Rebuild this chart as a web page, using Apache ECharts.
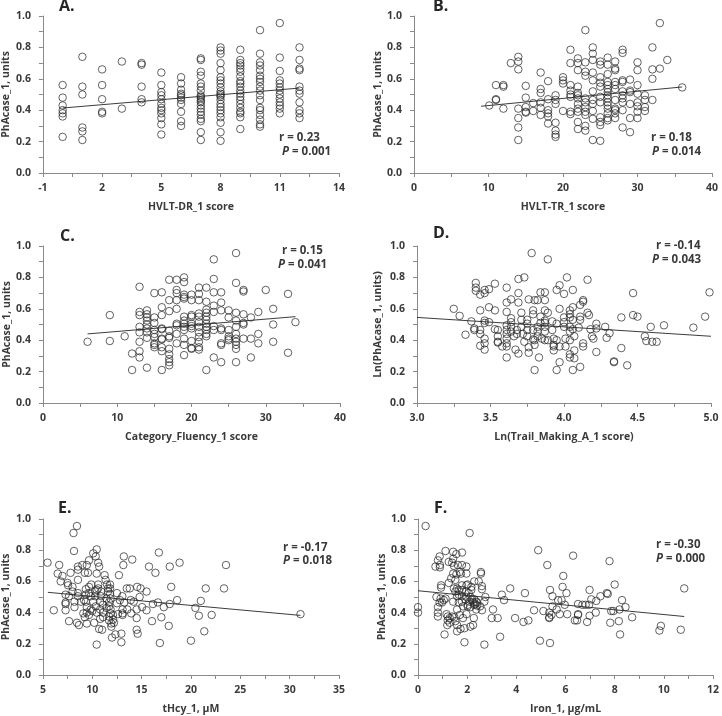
<!DOCTYPE html>
<html>
<head>
<meta charset="utf-8">
<script src="https://cdn.jsdelivr.net/npm/echarts@6/dist/echarts.min.js"></script>
<style>html,body{margin:0;padding:0;background:#fff}#chart{width:722px;height:716px}</style>
</head>
<body>
<div id="chart"></div>
<script>
// ---------- Panel A: HVLT-DR_1 score (grouped by integer score) ----------
const hvltDrScores = [0,1,2,3,4,5,6,7,8,9,10,11,12];
const hvltDrPhAcase = [
  [0.56,0.48,0.43,0.40,0.38,0.36,0.23],
  [0.74,0.55,0.50,0.29,0.265,0.21],
  [0.66,0.56,0.47,0.39,0.38],
  [0.71,0.41],
  [0.70,0.69,0.55,0.47,0.45],
  [0.64,0.56,0.515,0.495,0.47,0.44,0.415,0.40,0.38,0.35,0.31,0.245],
  [0.61,0.57,0.53,0.505,0.495,0.48,0.465,0.44,0.39,0.33,0.30],
  [0.73,0.72,0.645,0.62,0.57,0.55,0.525,0.495,0.485,0.475,0.46,0.45,0.43,0.41,0.39,0.37,0.345,0.33,0.26,0.21],
  [0.80,0.78,0.76,0.70,0.655,0.61,0.59,0.57,0.545,0.52,0.505,0.495,0.485,0.465,0.44,0.42,0.40,0.38,0.355,0.32,0.26,0.205],
  [0.785,0.72,0.70,0.685,0.665,0.645,0.615,0.585,0.57,0.55,0.525,0.505,0.485,0.465,0.44,0.415,0.39,0.38,0.355,0.28],
  [0.91,0.76,0.705,0.685,0.655,0.62,0.60,0.58,0.55,0.525,0.495,0.465,0.415,0.40,0.37,0.34,0.31,0.295],
  [0.955,0.735,0.65,0.59,0.57,0.545,0.525,0.50,0.475,0.45,0.43,0.41,0.38],
  [0.80,0.72,0.665,0.655,0.55,0.525,0.505,0.45,0.40,0.38,0.35]
];
const hvltDrTrend = [[0,0.414],[12,0.541]];

// ---------- Panel B: HVLT-TR_1 score ----------
const hvltTrPoints = [[10.1,0.43],[11,0.47],[11,0.465],[11,0.56],[12,0.55],[12,0.56],[12,0.41],[13,0.70],[14,0.74],[14,0.71],[14,0.66],[14,0.41],[14,0.35],[14,0.29],[14,0.21],[15,0.555],[15,0.48],[15,0.42],[15,0.39],[15,0.385],[16,0.445],[16,0.395],[17,0.64],[17,0.535],[17,0.51],[17,0.45],[17,0.415],[17,0.37],[18,0.585],[18,0.47],[18,0.40],[18,0.38],[18,0.36],[18,0.315],[19,0.495],[19,0.465],[19,0.44],[19,0.32],[19,0.27],[19,0.245],[19,0.23],[20,0.61],[20,0.59],[20,0.57],[20,0.395],[21,0.785],[21,0.70],[21,0.56],[21,0.525],[21,0.50],[21,0.485],[21,0.39],[21,0.375],[22,0.73],[22,0.70],[22,0.655],[22,0.55],[22,0.51],[22,0.495],[22,0.475],[22,0.44],[22,0.41],[22,0.39],[22,0.325],[22,0.28],[23,0.91],[23,0.705],[23,0.645],[23,0.62],[23,0.475],[23,0.45],[23,0.42],[23,0.39],[23,0.37],[23,0.30],[23,0.27],[24,0.80],[24,0.76],[24,0.72],[24,0.64],[24,0.59],[24,0.52],[24,0.465],[24,0.44],[24,0.395],[24,0.345],[24,0.21],[25,0.71],[25,0.69],[25,0.61],[25,0.575],[25,0.55],[25,0.485],[25,0.45],[25,0.355],[25,0.325],[25,0.305],[25,0.205],[26,0.735],[26,0.69],[26,0.63],[26,0.58],[26,0.56],[26,0.535],[26,0.515],[26,0.495],[26,0.475],[26,0.45],[26,0.43],[26,0.41],[26,0.38],[26,0.35],[26,0.335],[27,0.71],[27,0.665],[27,0.655],[27,0.58],[27,0.56],[27,0.535],[27,0.465],[27,0.41],[27,0.40],[27,0.38],[27,0.35],[28,0.785],[28,0.765],[28,0.59],[28,0.58],[28,0.52],[28,0.495],[28,0.475],[28,0.45],[28,0.40],[28,0.29],[29,0.595],[29,0.525],[29,0.515],[29,0.44],[29,0.35],[29,0.26],[30,0.705],[30,0.655],[30,0.56],[30,0.505],[30,0.45],[30,0.425],[30,0.39],[30,0.35],[31,0.495],[31,0.465],[31,0.42],[31,0.395],[32,0.80],[32,0.66],[32,0.60],[32,0.465],[33,0.955],[33,0.665],[34,0.72],[36,0.545]];
const hvltTrTrend = [[9,0.425],[36,0.548]];

// ---------- Panel C: Category_Fluency_1 score ----------
const fluencyPoints = [[6,0.39],[9,0.56],[9,0.395],[11,0.425],[12,0.315],[12,0.21],[13,0.74],[13,0.58],[13,0.56],[13,0.485],[13,0.45],[13,0.39],[13,0.33],[13,0.29],[14,0.59],[14,0.565],[14,0.545],[14,0.525],[14,0.50],[14,0.475],[14,0.45],[14,0.415],[14,0.225],[15,0.70],[15,0.545],[15,0.51],[15,0.465],[15,0.44],[15,0.42],[15,0.38],[15,0.37],[15,0.355],[16,0.705],[16,0.61],[16,0.56],[16,0.475],[16,0.47],[16,0.41],[16,0.405],[16,0.355],[16,0.33],[16,0.21],[17,0.785],[17,0.655],[17,0.585],[17,0.46],[17,0.425],[17,0.415],[17,0.345],[17,0.31],[17,0.28],[17,0.26],[17,0.24],[18,0.785],[18,0.72],[18,0.70],[18,0.655],[18,0.60],[18,0.505],[18,0.495],[18,0.44],[18,0.38],[19,0.80],[19,0.77],[19,0.69],[19,0.675],[19,0.665],[19,0.55],[19,0.525],[19,0.505],[19,0.485],[19,0.465],[19,0.41],[19,0.37],[19,0.305],[20,0.69],[20,0.655],[20,0.56],[20,0.55],[20,0.505],[20,0.49],[20,0.475],[20,0.395],[20,0.35],[20,0.345],[21,0.735],[21,0.695],[21,0.655],[21,0.57],[21,0.55],[21,0.515],[21,0.485],[21,0.45],[21,0.42],[21,0.39],[21,0.355],[21,0.34],[22,0.735],[22,0.645],[22,0.595],[22,0.575],[22,0.55],[22,0.53],[22,0.505],[22,0.485],[22,0.465],[22,0.44],[22,0.425],[22,0.21],[23,0.915],[23,0.79],[23,0.705],[23,0.62],[23,0.58],[23,0.49],[23,0.465],[23,0.29],[24,0.705],[24,0.64],[24,0.59],[24,0.475],[24,0.465],[24,0.38],[24,0.37],[24,0.26],[25,0.59],[25,0.545],[25,0.465],[25,0.425],[25,0.41],[25,0.40],[26,0.955],[26,0.765],[26,0.575],[26,0.525],[26,0.485],[26,0.44],[26,0.41],[26,0.39],[26,0.37],[26,0.345],[26,0.26],[27,0.72],[27,0.71],[27,0.565],[27,0.51],[27,0.50],[27,0.41],[28,0.545],[28,0.41],[28,0.29],[29,0.58],[29,0.44],[29,0.38],[30,0.72],[31,0.60],[31,0.50],[31,0.39],[33,0.695],[33,0.32],[34,0.515]];
const fluencyTrend = [[6,0.44],[34,0.55]];

// ---------- Panel D: Ln(Trail_Making_A_1 score) ----------
const trailPoints = [[3.25,0.60],[3.29,0.555],[3.33,0.435],[3.37,0.52],[3.39,0.475],[3.39,0.465],[3.40,0.765],[3.40,0.735],[3.40,0.715],[3.43,0.69],[3.43,0.59],[3.43,0.465],[3.43,0.44],[3.43,0.365],[3.46,0.72],[3.46,0.70],[3.46,0.525],[3.46,0.51],[3.46,0.41],[3.46,0.38],[3.46,0.34],[3.49,0.725],[3.49,0.61],[3.49,0.515],[3.53,0.76],[3.53,0.59],[3.53,0.47],[3.55,0.465],[3.55,0.425],[3.55,0.39],[3.55,0.385],[3.58,0.36],[3.61,0.735],[3.61,0.64],[3.61,0.58],[3.61,0.495],[3.61,0.465],[3.61,0.44],[3.61,0.41],[3.61,0.38],[3.61,0.36],[3.61,0.29],[3.64,0.66],[3.64,0.54],[3.64,0.515],[3.64,0.485],[3.64,0.455],[3.66,0.425],[3.67,0.34],[3.68,0.465],[3.68,0.44],[3.69,0.79],[3.69,0.70],[3.69,0.64],[3.69,0.315],[3.71,0.575],[3.71,0.53],[3.71,0.485],[3.72,0.44],[3.73,0.80],[3.73,0.39],[3.75,0.53],[3.75,0.505],[3.75,0.465],[3.75,0.425],[3.76,0.66],[3.76,0.355],[3.76,0.32],[3.78,0.955],[3.79,0.59],[3.79,0.565],[3.79,0.465],[3.79,0.405],[3.80,0.655],[3.80,0.40],[3.80,0.37],[3.80,0.21],[3.82,0.655],[3.82,0.485],[3.82,0.455],[3.82,0.425],[3.83,0.29],[3.84,0.705],[3.84,0.55],[3.84,0.51],[3.85,0.41],[3.87,0.705],[3.87,0.655],[3.87,0.59],[3.87,0.525],[3.87,0.51],[3.87,0.485],[3.87,0.455],[3.87,0.40],[3.89,0.915],[3.89,0.575],[3.89,0.40],[3.92,0.52],[3.92,0.465],[3.93,0.41],[3.93,0.37],[3.93,0.36],[3.93,0.335],[3.95,0.72],[3.95,0.505],[3.95,0.40],[3.95,0.21],[3.97,0.75],[3.97,0.60],[3.97,0.36],[3.97,0.26],[4.00,0.695],[4.00,0.545],[4.00,0.515],[4.00,0.485],[4.01,0.41],[4.01,0.36],[4.02,0.80],[4.04,0.59],[4.04,0.565],[4.04,0.545],[4.04,0.485],[4.04,0.455],[4.04,0.40],[4.04,0.31],[4.04,0.29],[4.06,0.72],[4.06,0.61],[4.06,0.53],[4.06,0.47],[4.06,0.21],[4.07,0.425],[4.07,0.335],[4.07,0.285],[4.10,0.48],[4.11,0.625],[4.11,0.55],[4.11,0.53],[4.11,0.23],[4.13,0.655],[4.13,0.645],[4.13,0.38],[4.13,0.36],[4.16,0.785],[4.16,0.575],[4.17,0.56],[4.18,0.47],[4.19,0.425],[4.20,0.41],[4.22,0.325],[4.22,0.505],[4.22,0.475],[4.28,0.485],[4.29,0.415],[4.31,0.445],[4.34,0.265],[4.34,0.26],[4.39,0.545],[4.39,0.35],[4.43,0.24],[4.47,0.70],[4.47,0.56],[4.50,0.55],[4.55,0.425],[4.56,0.395],[4.59,0.485],[4.60,0.39],[4.63,0.39],[4.68,0.495],[4.88,0.48],[4.96,0.55],[4.99,0.705]];
const trailTrend = [[3.0,0.545],[5.0,0.425]];

// ---------- Panel E: tHcy_1, µM ----------
const thcyPoints = [[5.47,0.72],[6.1,0.415],[6.65,0.705],[6.5,0.65],[6.98,0.635],[6.8,0.60],[7.3,0.515],[7.3,0.465],[7.3,0.455],[7.3,0.415],[7.5,0.59],[7.55,0.575],[7.65,0.345],[7.65,0.505],[7.8,0.655],[8.0,0.565],[8.0,0.535],[8.1,0.91],[8.15,0.795],[8.2,0.47],[8.2,0.435],[8.45,0.955],[8.45,0.335],[8.55,0.695],[8.55,0.675],[8.55,0.61],[8.55,0.525],[8.55,0.505],[8.65,0.32],[8.85,0.47],[9.0,0.705],[9.1,0.395],[9.17,0.48],[9.25,0.655],[9.25,0.37],[9.35,0.55],[9.35,0.515],[9.35,0.47],[9.45,0.705],[9.45,0.435],[9.45,0.40],[9.45,0.33],[9.57,0.655],[9.67,0.735],[9.67,0.565],[9.67,0.525],[9.67,0.385],[9.85,0.505],[9.85,0.42],[9.9,0.58],[10.0,0.41],[10.1,0.78],[10.1,0.47],[10.2,0.335],[10.3,0.535],[10.3,0.505],[10.35,0.76],[10.35,0.44],[10.45,0.805],[10.45,0.65],[10.45,0.545],[10.45,0.40],[10.45,0.195],[10.6,0.72],[10.6,0.58],[10.6,0.555],[10.7,0.695],[10.7,0.295],[10.8,0.47],[10.8,0.42],[10.8,0.36],[10.9,0.535],[10.9,0.505],[11.0,0.29],[11.1,0.45],[11.1,0.40],[11.1,0.37],[11.25,0.64],[11.35,0.61],[11.45,0.49],[11.45,0.43],[11.5,0.58],[11.6,0.555],[11.6,0.535],[11.7,0.465],[11.7,0.44],[11.7,0.375],[11.7,0.35],[11.8,0.58],[11.8,0.555],[11.8,0.52],[11.86,0.49],[11.86,0.42],[11.86,0.395],[11.93,0.33],[11.93,0.31],[12.0,0.24],[12.1,0.385],[12.1,0.355],[12.2,0.335],[12.35,0.26],[12.5,0.525],[12.5,0.46],[12.6,0.39],[12.7,0.64],[12.8,0.48],[12.95,0.265],[12.95,0.21],[13.05,0.505],[13.07,0.42],[13.07,0.395],[13.07,0.385],[13.15,0.705],[13.2,0.76],[13.25,0.465],[13.5,0.555],[13.55,0.42],[13.8,0.555],[13.9,0.48],[13.95,0.395],[14.05,0.74],[14.2,0.47],[14.5,0.42],[14.5,0.365],[14.5,0.29],[14.55,0.565],[14.6,0.265],[14.8,0.50],[14.9,0.555],[15.05,0.435],[15.5,0.535],[15.5,0.415],[15.75,0.695],[16.05,0.345],[16.15,0.455],[16.4,0.655],[16.75,0.785],[16.65,0.465],[16.85,0.205],[17.0,0.37],[17.25,0.435],[17.75,0.315],[17.85,0.455],[17.85,0.695],[18.0,0.565],[18.6,0.48],[18.85,0.72],[20.0,0.22],[20.45,0.43],[20.8,0.38],[21.0,0.475],[21.35,0.28],[21.5,0.555],[22.1,0.385],[23.35,0.555],[23.55,0.705],[31.1,0.39]];
const thcyTrend = [[5.5,0.53],[31.1,0.382]];

// ---------- Panel F: Iron_1, µg/mL ----------
const ironPoints = [[0,0.435],[0,0.40],[0.31,0.955],[0.71,0.695],[0.75,0.50],[0.81,0.735],[0.81,0.435],[0.81,0.375],[0.81,0.40],[0.88,0.76],[0.89,0.705],[0.89,0.69],[0.88,0.465],[0.92,0.49],[0.94,0.575],[0.94,0.56],[0.98,0.465],[1.05,0.48],[1.08,0.26],[1.12,0.795],[1.12,0.49],[1.16,0.39],[1.19,0.32],[1.21,0.375],[1.21,0.35],[1.25,0.725],[1.25,0.59],[1.29,0.365],[1.29,0.335],[1.35,0.62],[1.39,0.375],[1.39,0.72],[1.43,0.79],[1.43,0.745],[1.43,0.65],[1.43,0.47],[1.46,0.70],[1.46,0.555],[1.48,0.37],[1.52,0.61],[1.52,0.535],[1.52,0.345],[1.56,0.775],[1.56,0.645],[1.59,0.555],[1.59,0.505],[1.59,0.42],[1.59,0.32],[1.59,0.28],[1.62,0.705],[1.66,0.545],[1.66,0.515],[1.66,0.465],[1.70,0.66],[1.70,0.385],[1.73,0.295],[1.75,0.65],[1.79,0.785],[1.79,0.705],[1.79,0.575],[1.79,0.545],[1.79,0.505],[1.79,0.47],[1.83,0.44],[1.83,0.365],[1.89,0.30],[1.89,0.21],[1.93,0.485],[1.97,0.695],[1.97,0.65],[1.97,0.575],[1.97,0.535],[1.97,0.50],[1.97,0.39],[2.02,0.58],[2.02,0.45],[2.02,0.44],[2.06,0.525],[2.10,0.91],[2.10,0.47],[2.13,0.50],[2.13,0.435],[2.13,0.31],[2.17,0.565],[2.17,0.545],[2.2,0.485],[2.24,0.465],[2.24,0.32],[2.27,0.365],[2.29,0.60],[2.29,0.485],[2.29,0.45],[2.33,0.455],[2.37,0.47],[2.37,0.42],[2.40,0.465],[2.40,0.445],[2.47,0.60],[2.53,0.44],[2.56,0.65],[2.56,0.66],[2.6,0.57],[2.6,0.55],[2.6,0.415],[2.7,0.47],[2.7,0.195],[2.74,0.50],[3.05,0.42],[3.0,0.365],[3.24,0.365],[3.34,0.245],[3.41,0.515],[3.5,0.48],[3.75,0.555],[3.95,0.365],[4.29,0.34],[4.35,0.525],[4.49,0.35],[4.72,0.415],[4.89,0.80],[4.96,0.22],[5.1,0.41],[5.26,0.705],[5.34,0.40],[5.34,0.37],[5.34,0.365],[5.37,0.205],[5.37,0.545],[5.43,0.385],[5.47,0.505],[5.47,0.44],[5.64,0.42],[5.70,0.48],[5.77,0.39],[5.84,0.48],[5.88,0.565],[5.91,0.635],[5.97,0.45],[6.04,0.525],[6.07,0.39],[6.31,0.765],[6.38,0.35],[6.47,0.35],[6.51,0.455],[6.51,0.39],[6.51,0.385],[6.69,0.45],[6.82,0.45],[6.88,0.34],[6.96,0.45],[6.98,0.38],[6.98,0.545],[7.05,0.485],[7.23,0.40],[7.25,0.475],[7.42,0.505],[7.68,0.525],[7.72,0.52],[7.79,0.73],[7.82,0.335],[7.86,0.41],[8.0,0.58],[7.95,0.41],[8.2,0.42],[8.17,0.345],[8.22,0.26],[8.30,0.48],[8.44,0.435],[8.71,0.37],[9.82,0.285],[9.88,0.315],[10.69,0.29],[10.83,0.555]];
const ironTrend = [[0,0.54],[10.83,0.375]];

// ---------- Tick / label text ----------
const panelLetters = ['A.','B.','C.','D.','E.','F.'];
const xTitles = ['HVLT-DR_1 score','HVLT-TR_1 score','Category_Fluency_1 score','Ln(Trail_Making_A_1 score)','tHcy_1, \u03bcM','Iron_1, \u03bcg/mL'];
const yTitles = ['PhAcase_1, units','PhAcase_1, units','PhAcase_1, units','Ln(PhAcase_1, units)','PhAcase_1, units','PhAcase_1, units'];
const rTexts = ['r = 0.23','r = 0.18','r = 0.15','r = -0.14','r = -0.17','r = -0.30'];
const pTexts = ['0.001','0.014','0.041','0.043','0.018','0.000'];
const xRanges = [[-1,14,3],[0,40,10],[0,40,10],[3,5,0.5],[5,35,5],[0,12,2]];
const yRange = [0,1,0.2];

// ---------- Build ----------
const hvltDrPoints = [];
hvltDrScores.forEach((s,i)=>hvltDrPhAcase[i].forEach(v=>hvltDrPoints.push([s,v])));
const panelPoints = [hvltDrPoints, hvltTrPoints, fluencyPoints, trailPoints, thcyPoints, ironPoints];
const panelTrends = [hvltDrTrend, hvltTrTrend, fluencyTrend, trailTrend, thcyTrend, ironTrend];

const FONT = '"Open Sans", Lato, sans-serif';
const TXT = '#3a3a3a';
const AX = '#8a8a8a';

const grids = [
  {left:42, top:16, width:297, height:157},
  {left:414, top:16, width:298, height:157},
  {left:43, top:246, width:297, height:157},
  {left:417, top:246, width:294, height:157},
  {left:42, top:519, width:297, height:157},
  {left:418, top:519, width:297, height:157}
];
const letterPos = [[59,-2],[433,-2],[60,228],[433,225],[58,500],[434,500]];
const rPos = [[279,132],[651,132],[282,245],[656,240],[283,542],[656,539]];
const pPos = [[282,146],[652,146],[278,259],[652,254],[283,555],[656,553]];
const yNameGap = [30,30,30,33,30,30];

const xAxes = [], yAxes = [], series = [], titles = [];
grids.forEach((g,i)=>{
  const [mn,mx,iv] = xRanges[i];
  const dec = iv < 1 ? 1 : 0;
  xAxes.push({
    type:'value', gridIndex:i, min:mn, max:mx, interval:iv,
    name:xTitles[i], nameLocation:'middle', nameGap:29,
    nameTextStyle:{fontFamily:FONT, fontSize:10.5, fontWeight:'bold', color:TXT},
    axisLine:{show:true, onZero:false, lineStyle:{color:AX, width:1}},
    axisTick:{show:true, length:4, lineStyle:{color:AX}},
    minorTick:{show:true, splitNumber:2, length:4, lineStyle:{color:AX}},
    splitLine:{show:false},
    axisLabel:{fontFamily:FONT, fontSize:10.5, fontWeight:'bold', color:TXT, margin:10,
      formatter:v=>Number(v).toFixed(dec), showMinLabel:true, showMaxLabel:true}
  });
  yAxes.push({
    type:'value', gridIndex:i, min:yRange[0], max:yRange[1], interval:yRange[2],
    name:yTitles[i], nameLocation:'middle', nameGap:yNameGap[i],
    nameTextStyle:{fontFamily:FONT, fontSize:10.5, fontWeight:'bold', color:TXT},
    axisLine:{show:true, onZero:false, lineStyle:{color:AX, width:1}},
    axisTick:{show:true, length:4, lineStyle:{color:AX}},
    minorTick:{show:true, splitNumber:2, length:4, lineStyle:{color:AX}},
    splitLine:{show:false},
    axisLabel:{fontFamily:FONT, fontSize:10.5, fontWeight:'bold', color:TXT, margin:12,
      formatter:v=>Number(v).toFixed(1)}
  });
  series.push({
    type:'scatter', xAxisIndex:i, yAxisIndex:i, data:panelPoints[i],
    symbol:'circle', symbolSize:7.5, silent:true,
    itemStyle:{color:'rgba(255,255,255,0)', borderColor:'#262626', borderWidth:0.9}
  });
  series.push({
    type:'line', xAxisIndex:i, yAxisIndex:i, data:panelTrends[i],
    showSymbol:false, silent:true, lineStyle:{color:'#262626', width:0.9}
  });
  titles.push({text:panelLetters[i], left:letterPos[i][0], top:letterPos[i][1], padding:0,
    textStyle:{fontFamily:FONT, fontSize:16, fontWeight:'bold', color:'#262626'}});
  titles.push({text:rTexts[i], left:rPos[i][0], top:rPos[i][1], padding:0,
    textStyle:{fontFamily:FONT, fontSize:11.5, fontWeight:'bold', color:TXT}});
  titles.push({text:'{i|P} = ' + pTexts[i], left:pPos[i][0], top:pPos[i][1], padding:0,
    textStyle:{fontFamily:FONT, fontSize:11.5, fontWeight:'bold', color:TXT,
      rich:{i:{fontFamily:FONT, fontSize:11.5, fontWeight:'bold', fontStyle:'italic', color:TXT}}}});
});

const chart = echarts.init(document.getElementById('chart'), null, {renderer:'canvas'});
chart.setOption({
  animation:false,
  backgroundColor:'#ffffff',
  title:titles,
  grid:grids,
  xAxis:xAxes,
  yAxis:yAxes,
  series:series
});
</script>
</body>
</html>
